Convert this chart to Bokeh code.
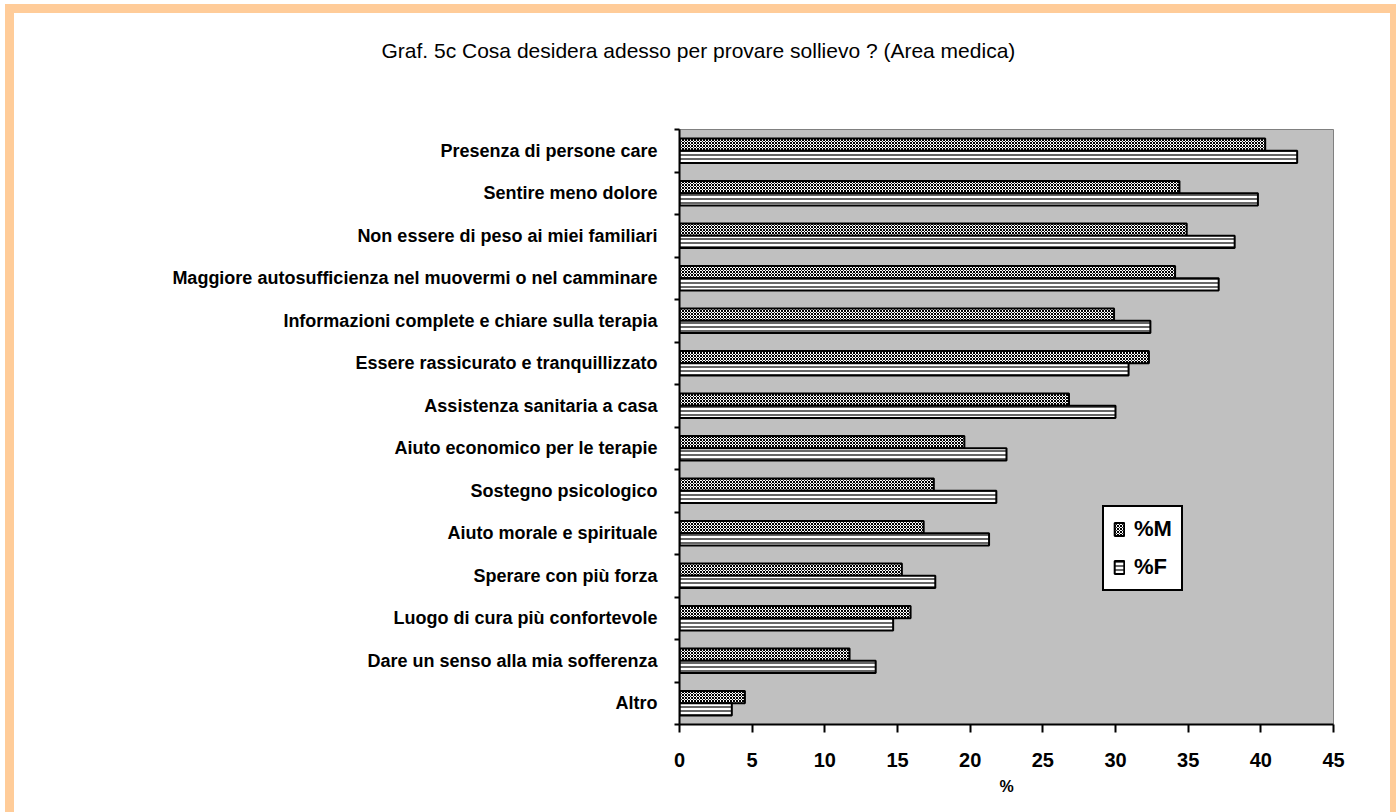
from bokeh.plotting import figure
from bokeh.models import (Range1d, FixedTicker, LinearAxis, Legend, LegendItem,
                          Title, ColumnDataSource)
from bokeh.embed import file_html
from bokeh.resources import INLINE

# Survey answers, male and female percentages
categories = [
    "Presenza di persone care",
    "Sentire meno dolore",
    "Non essere di peso ai miei familiari",
    "Maggiore autosufficienza nel muovermi o nel camminare",
    "Informazioni complete e chiare sulla terapia",
    "Essere rassicurato e tranquillizzato",
    "Assistenza sanitaria a casa",
    "Aiuto economico per le terapie",
    "Sostegno psicologico",
    "Aiuto morale e spirituale",
    "Sperare con più forza",
    "Luogo di cura più confortevole",
    "Dare un senso alla mia sofferenza",
    "Altro",
]
pct_m = [40.3, 34.4, 34.9, 34.1, 29.9, 32.3, 26.8, 19.6, 17.5, 16.8, 15.3, 15.9, 11.7, 4.5]
pct_f = [42.5, 39.8, 38.2, 37.1, 32.4, 30.9, 30.0, 22.5, 21.8, 21.3, 17.6, 14.7, 13.5, 3.6]
x_ticks = [0, 5, 10, 15, 20, 25, 30, 35, 40, 45]
series_labels = ["%M", "%F"]

title_text = "Graf. 5c Cosa desidera adesso per provare sollievo ? (Area medica)"

# page and plot-frame geometry in pixels
W, H = 1396, 812
FL, FR, FT, FB = 679, 1333, 129, 724

n = len(categories)
centers = [n - 0.5 - i for i in range(n)]
off = 0.145
bar_h = 0.29
x_max = 45

src = ColumnDataSource(dict(
    cat=categories,
    m=pct_m,
    f=pct_f,
    ym=[c + off for c in centers],
    yf=[c - off for c in centers],
))

p = figure(width=W, height=H, output_backend="svg", toolbar_location=None,
           x_range=Range1d(0, x_max), y_range=Range1d(0, n),
           x_axis_type=None, y_axis_type=None,
           min_border_left=FL, min_border_right=W - FR,
           min_border_top=FT, min_border_bottom=H - FB)
p.background_fill_color = "#C0C0C0"
p.border_fill_alpha = 0
p.outline_line_color = "#808080"
p.outline_line_width = 1

# white page with a peach frame along the top and both sides
peach = "#FFCC99"
grad = f"linear-gradient({peach}, {peach})"
p.styles = {
    "background-color": "white",
    "background-image": ", ".join([grad, grad, grad]),
    "background-size": f"{W - 5}px 9px, 9px {H - 4}px, 6px {H - 4}px",
    "background-position": "5px 4px, 5px 4px, 1390px 4px",
    "background-repeat": "no-repeat",
}

font = "Liberation Sans"

# bare top axis (no line, no tick marks, blank label) that only keeps a gap
# between the title and the plotting area
top_gap = LinearAxis(ticker=FixedTicker(ticks=[0], minor_ticks=[]))
top_gap.major_label_overrides = {0: ""}
top_gap.axis_line_color = None
top_gap.major_tick_line_color = None
top_gap.minor_tick_line_color = None
top_gap.major_tick_out = 28
top_gap.major_tick_in = 0
top_gap.minor_tick_out = 0
top_gap.minor_tick_in = 0
top_gap.major_label_standoff = 0
top_gap.major_label_text_font_size = "1px"
p.add_layout(top_gap, "above")

# title, shifted left so that it sits centred on the page
title = Title(text=title_text, align="left", offset=-298,
              vertical_align="top", standoff=76,
              text_font=font, text_font_size="21px",
              text_font_style="normal", text_color="black")
p.add_layout(title, "above")

# bottom axis with percentage ticks
xa = LinearAxis(ticker=FixedTicker(ticks=x_ticks, minor_ticks=[]))
xa.axis_line_width = 2
xa.axis_line_color = "black"
xa.major_tick_line_width = 2
xa.major_tick_line_color = "black"
xa.major_tick_out = 8
xa.major_tick_in = 0
xa.minor_tick_out = 0
xa.major_label_text_font = font
xa.major_label_text_font_style = "bold"
xa.major_label_text_font_size = "20px"
xa.major_label_text_color = "black"
xa.major_label_standoff = 20
xa.axis_label = "%"
xa.axis_label_text_font = font
xa.axis_label_text_font_style = "bold"
xa.axis_label_text_font_size = "16px"
xa.axis_label_text_color = "black"
xa.axis_label_standoff = 8
p.add_layout(xa, "below")

# left axis: labels at band centres, small ticks at band boundaries
ya = LinearAxis(ticker=FixedTicker(ticks=centers, minor_ticks=list(range(n + 1))))
ya.major_label_overrides = {c: name for c, name in zip(centers, categories)}
ya.axis_line_width = 2
ya.axis_line_color = "black"
ya.major_tick_out = 0
ya.major_tick_in = 0
ya.minor_tick_out = 5
ya.minor_tick_in = 0
ya.minor_tick_line_width = 2
ya.minor_tick_line_color = "black"
ya.major_label_text_font = font
ya.major_label_text_font_style = "bold"
ya.major_label_text_font_size = "18px"
ya.major_label_text_color = "black"
ya.major_label_standoff = 17
p.add_layout(ya, "left")

# vertical grid lines
p.xgrid.ticker = FixedTicker(ticks=x_ticks[1:-1])
p.xgrid.grid_line_color = "black"
p.xgrid.grid_line_width = 2
p.ygrid.grid_line_color = None

rm = p.hbar(y="ym", left=0, right="m", height=bar_h, source=src,
            fill_color="white", line_color="black", line_width=2,
            hatch_pattern="x", hatch_scale=3, hatch_weight=1, hatch_color="black")
rf = p.hbar(y="yf", left=0, right="f", height=bar_h, source=src,
            fill_color="white", line_color="black", line_width=2,
            hatch_pattern="-", hatch_scale=4, hatch_weight=1.2, hatch_color="black")

legend = Legend(items=[LegendItem(label=series_labels[0], renderers=[rm]),
                       LegendItem(label=series_labels[1], renderers=[rf])],
                location=(1102 - FL, FB - 591), orientation="vertical")
legend.border_line_color = "black"
legend.border_line_alpha = 1
legend.border_line_width = 2
legend.background_fill_color = "white"
legend.background_fill_alpha = 1
legend.label_text_font = font
legend.label_text_font_style = "bold"
legend.label_text_font_size = "22px"
legend.label_text_color = "black"
legend.glyph_width = 12
legend.glyph_height = 16
legend.label_standoff = 9
legend.padding = 9
legend.spacing = 12
legend.margin = 0
p.add_layout(legend, "center")

open("out.html", "w").write(file_html(p, INLINE))
